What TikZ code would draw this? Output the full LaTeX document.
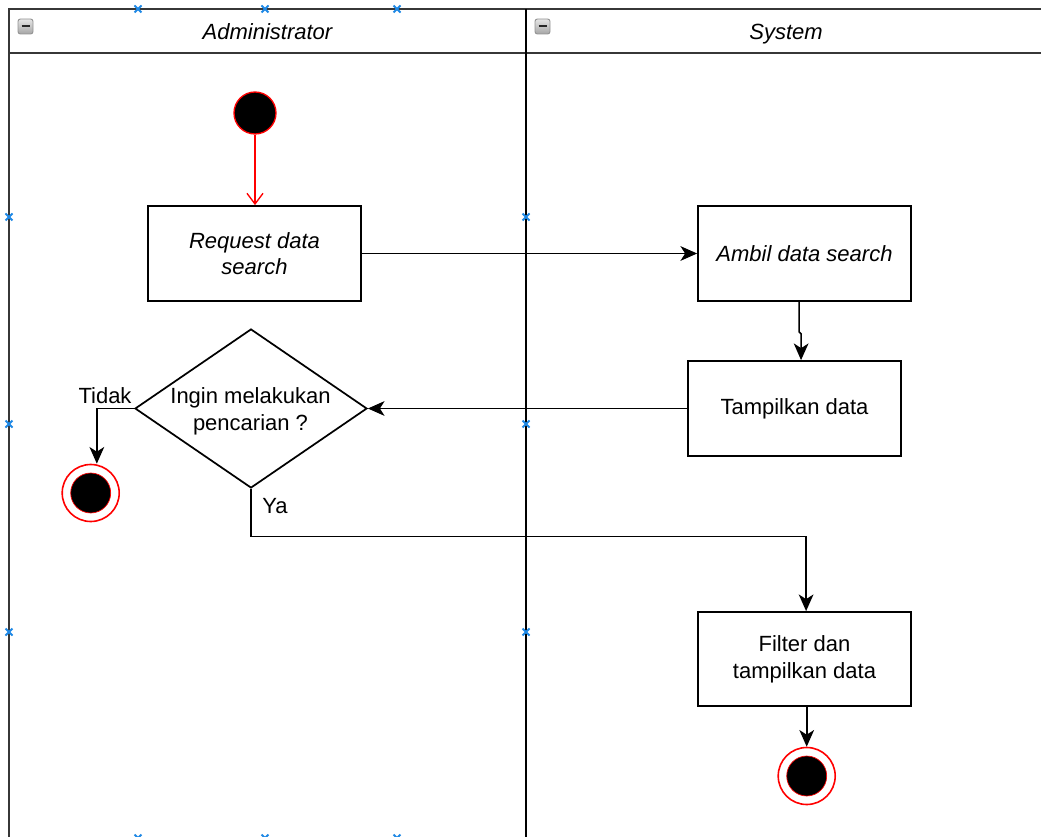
\documentclass[tikz,border=0pt]{standalone}
\usepackage{fontspec}
\setmainfont{Liberation Sans}
\usetikzlibrary{arrows.meta,shapes.geometric}
\definecolor{handle}{RGB}{30,136,229}
\definecolor{lanegray}{RGB}{55,55,55}
\begin{document}
\begin{tikzpicture}[x=0.75pt,y=-0.75pt,
  txt/.style={font=\fontsize{16.5}{20}\selectfont, inner sep=1pt},
  itxt/.style={font=\fontsize{16.5}{20}\selectfont\itshape},
  lane/.style={draw=lanegray, line width=1.5pt},
  act/.style={txt, draw, line width=1.3pt, fill=white, minimum width=159.75pt,
    minimum height=71.25pt, inner sep=0pt, align=center},
  dec/.style={draw, line width=1.3pt, fill=white, diamond, minimum width=174pt,
    minimum height=119.25pt, inner sep=0pt},
  startdot/.style={circle, fill=black, draw=red, line width=1pt, minimum size=31.5pt, inner sep=0pt},
  endring/.style={circle, fill=white, draw=red, line width=1.2pt, minimum size=42.75pt, inner sep=0pt},
  enddot/.style={circle, fill=black, draw=red, line width=0.5pt, minimum size=30pt, inner sep=0pt},
  flow/.style={draw, line width=1.2pt, -{Stealth[length=12.5pt,width=11pt,inset=3.5pt]}},
  initflow/.style={draw=red, line width=1pt, -{Straight Barb[length=8pt,width=12pt]}},
  hmark/.style={draw=handle, line width=1.4pt},
  collapse/.style={top color=gray!20, bottom color=gray!70, draw=gray!85, line width=0.7pt, rounded corners=1.8pt}]

\useasboundingbox (0,0) rectangle (1041,837);
\clip (0,0) rectangle (1041,837);

% pool and lanes
\draw[lane] (9,837) -- (9,9) -- (1041,9);
\draw[lane] (9,53) -- (1041,53);
\draw[lane, draw=black] (526,9) -- (526,837);

% collapse buttons in the lane headers
\foreach \cx in {18,535} {
  \shade[collapse] (\cx,19) rectangle (\cx+15,34);
  \draw[line width=1.5pt, black!85] (\cx+3.5,26.5) -- (\cx+11.5,26.5);
}
\node[txt, itxt, anchor=base] (h1) at (267.5,39.5) {Administrator};
\node[txt, itxt, anchor=base] (h2) at (786,39.5) {System};

% activity nodes
\node[startdot] (start) at (255,113) {};
\node[act, itxt] (req) at (254.5,253.5) {Request data\\search};
\node[act, itxt] (ambil) at (804.5,253.5) {Ambil data search};
\node[act] (tamp) at (794.5,408.5) {Tampilkan data};
\node[dec] (d) at (251,408.5) {};
\node[txt, align=center] (dtext) at (250.5,411) {Ingin melakukan\\pencarian ?};
\node[act, minimum height=70.5pt] (filter) at (804.5,659) {Filter dan\\tampilkan data};

\node[endring] (end1) at (90.7,493) {};
\node[enddot] at (end1) {};
\node[endring] (end2) at (806.7,776) {};
\node[enddot] at (end2) {};

% connectors
\draw[initflow] (start) -- (start |- req.north);
\draw[flow] (req.east) -- (ambil.west);
\draw[flow] ([xshift=-4pt]ambil.south) -- ++(0,30) -- ++(2,2) -- ([xshift=4.9pt]tamp.north);
\draw[flow] (tamp.west) -- (d.east);
\draw[flow] (d.west) -| ([xshift=4.6pt]end1.north);
\draw[flow] (d.south) -- ++(0,47.5) -| ([xshift=1.2pt]filter.north);
\draw[flow] (filter.south -| end2) -- (end2.north);

\node[txt] (tidak) at (105,396) {Tidak};
\node[txt] (ya) at (275,506) {Ya};

% selection handles
\foreach \hx/\hy in {138/9, 265/9, 397/9, 9/217, 9/424, 9/632, 526/217, 526/424, 526/632, 138/838, 265/838, 397/838} {
  \draw[hmark] (\hx-3.5,\hy-3.5) -- (\hx+3.5,\hy+3.5) (\hx-3.5,\hy+3.5) -- (\hx+3.5,\hy-3.5);
}
\end{tikzpicture}
\end{document}
